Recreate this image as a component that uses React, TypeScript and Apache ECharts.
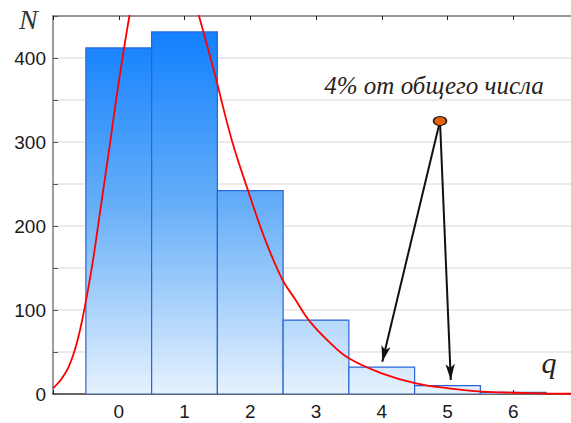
import React, { useEffect, useRef } from 'react';
import * as echarts from 'echarts';

// Histogram bins (q) and counts (N)
const binCenters = [0, 1, 2, 3, 4, 5, 6];
const binCounts = [412, 431, 242, 88, 32, 10, 2];

// Fitted red curve
const curveQ = [-1.0, -0.88, -0.76, -0.64, -0.53, -0.4, -0.28, -0.126, -0.04, 0.076, 0.163, 0.3, 0.45, 0.6, 0.75, 0.9, 1.05, 1.22, 1.47, 1.72, 1.98, 2.23, 2.49, 2.69, 2.89, 3.2, 3.5, 4.0, 4.52, 5.02, 5.53, 6.0, 6.5, 7.0];
const curveN = [6.8, 17, 32.5, 60, 98, 155, 219, 302, 350, 409.5, 450, 505, 538, 550, 545, 525, 494, 450, 378, 302, 239, 183, 136, 112, 88, 62, 42.5, 24.6, 12.7, 6.8, 2.8, 1.5, 0.6, 0.2];

// Axis settings
const xMin = -1;
const xMax = 7;
const yMin = 0;
const yMax = 450;
const xLabels = ['0', '1', '2', '3', '4', '5', '6'];

// Annotation
const annotationText = '4% от общего числа';
const sourcePoint = [4.886, 325];
const arrowTargets = [
  [4.008, 38.5],
  [5.05, 16.7],
];

export default function App() {
  const ref = useRef<HTMLDivElement>(null);

  useEffect(() => {
    if (!ref.current) return;
    const chart = echarts.init(ref.current, undefined, { renderer: 'svg' });

    const barData = binCenters.map((c, i) => [c, binCounts[i]]);
    const curveData = curveQ.map((q, i) => [q, curveN[i]]);

    const option: any = {
      animation: false,
      backgroundColor: '#ffffff',
      grid: {
        left: 53,
        width: 526,
        top: 16,
        bottom: 29,
        containLabel: false,
        outerBoundsMode: 'none',
      },
      xAxis: [
        {
          type: 'value',
          position: 'bottom',
          min: xMin,
          max: xMax,
          interval: 1,
          axisLine: { show: true, onZero: false, lineStyle: { color: '#3a3a3a', width: 1.5 } },
          axisTick: { show: true, inside: true, length: 4, lineStyle: { color: '#222' } },
          axisLabel: {
            show: true,
            margin: 8,
            color: '#1a1a1a',
            fontSize: 19,
            fontFamily: '"Liberation Sans", Arial, sans-serif',
            formatter: (v: number) => {
              const idx = Math.round(v);
              return idx >= 0 && idx < xLabels.length ? xLabels[idx] : '';
            },
          },
          splitLine: { show: false },
        },
        {
          type: 'value',
          position: 'top',
          min: xMin,
          max: xMax,
          interval: 1,
          axisLine: { show: true, onZero: false, lineStyle: { color: '#7a7a7a', width: 1.5 } },
          axisTick: { show: true, inside: true, length: 4, lineStyle: { color: '#222' } },
          axisLabel: { show: false },
          splitLine: { show: false },
        },
      ],
      yAxis: {
        type: 'value',
        min: yMin,
        max: yMax,
        interval: 50,
        axisLine: { show: true, onZero: false, lineStyle: { color: '#7a7a7a', width: 1.5 } },
        axisTick: { show: true, inside: true, length: 5, lineStyle: { color: '#555' } },
        axisLabel: {
          margin: 7,
          color: '#1a1a1a',
          fontSize: 19,
          fontFamily: '"Liberation Sans", Arial, sans-serif',
          formatter: (v: number) => (v % 100 === 0 ? String(v) : ''),
        },
        splitLine: { show: true, lineStyle: { color: '#e4e4e4', width: 1.5 } },
      },
      series: [
        {
          type: 'custom',
          xAxisIndex: 0,
          encode: { x: 0, y: 1 },
          data: barData,
          clip: true,
          renderItem: (params: any, api: any) => {
            const c = api.value(0);
            const v = api.value(1);
            const p0 = api.coord([c - 0.5, v]);
            const p1 = api.coord([c + 0.5, 0]);
            const yTop = api.coord([0, yMax])[1];
            const yBot = api.coord([0, 0])[1];
            return {
              type: 'rect',
              shape: { x: p0[0], y: p0[1], width: p1[0] - p0[0], height: p1[1] - p0[1] },
              style: {
                fill: new echarts.graphic.LinearGradient(0, yTop, 0, yBot, [
                  { offset: 0, color: '#0a7cff' },
                  { offset: 0.5, color: '#66aef8' },
                  { offset: 1, color: '#e6f2fe' },
                ], true),
                stroke: '#2a64d6',
                lineWidth: 1.2,
              },
            };
          },
        },
        {
          type: 'line',
          xAxisIndex: 0,
          data: curveData,
          smooth: 0.4,
          showSymbol: false,
          symbol: 'none',
          clip: true,
          lineStyle: { color: '#ff0000', width: 1.8 },
          z: 3,
          markLine: {
            silent: true,
            symbol: ['none', 'arrow'],
            symbolSize: [7, 16],
            label: { show: false },
            lineStyle: { color: '#111111', width: 2, type: 'solid' },
            data: arrowTargets.map((t) => [
              { coord: sourcePoint },
              { coord: t },
            ]),
          },
          markPoint: {
            silent: true,
            symbol: 'circle',
            symbolSize: [13, 9],
            label: { show: false },
            itemStyle: { color: '#e8600c', borderColor: '#111', borderWidth: 1.2 },
            data: [{ coord: sourcePoint }],
          },
        },
      ],
      graphic: [
        {
          type: 'text',
          left: 19,
          top: 5,
          style: {
            text: 'N',
            font: 'italic 28px "Liberation Serif", "Times New Roman", serif',
            fill: '#333',
          },
        },
        {
          type: 'text',
          x: 549,
          y: 362,
          style: {
            text: 'q',
            font: 'italic 30px "Liberation Serif", "Times New Roman", serif',
            fill: '#222',
            textAlign: 'center',
            textVerticalAlign: 'middle',
          },
        },
        {
          type: 'text',
          x: 434,
          y: 85,
          style: {
            text: annotationText,
            font: 'italic 25px "Liberation Serif", "Times New Roman", serif',
            fill: '#2a2218',
            textAlign: 'center',
            textVerticalAlign: 'middle',
          },
        },
      ],
    };

    chart.setOption(option);
    return () => chart.dispose();
  }, []);

  return (
    <div
      ref={ref}
      style={{ position: 'fixed', left: 0, top: 0, width: 571, height: 423, background: '#fff' }}
    />
  );
}
